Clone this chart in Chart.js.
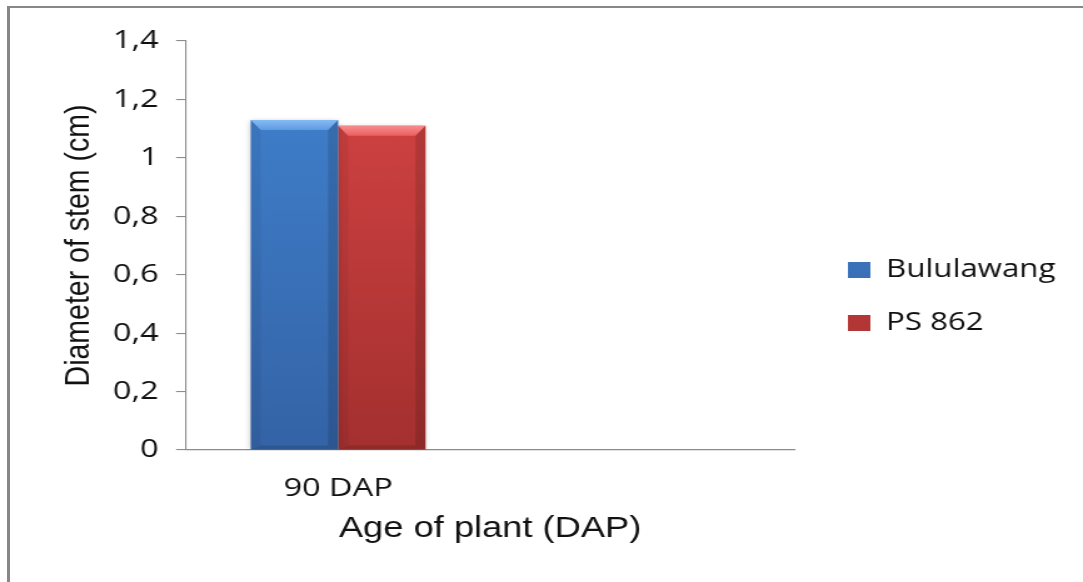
<!DOCTYPE html>
<html>
<head>
<meta charset="utf-8">
<script src="https://cdn.jsdelivr.net/npm/chart.js@4/dist/chart.umd.min.js"></script>
<style>
    html, body { margin: 0; padding: 0; background: #fff; overflow: hidden; }
    #wrap { position: relative; width: 1083px; height: 582px; }
    #frame {
        position: absolute; left: 7px; top: 6px; right: 0; bottom: -10px;
        border-top: 2px solid #878787; border-left: 3px solid #878787;
        pointer-events: none;
    }
    /* the original picture is stretched sideways, so the canvas is too */
    #chart { position: absolute; left: 0; top: 0; width: 1083px; height: 582px; }
</style>
</head>
<body>
<div id="wrap">
    <canvas id="chart" width="866" height="582" style="width:1083px;height:582px"></canvas>
    <div id="frame"></div>
</div>
<script>
const categories = ["90 DAP", ""];
const seriesNames = ["Bululawang", "PS 862"];
const bululawang = [1.13, null];
const ps862 = [1.11, null];
const yMin = 0;
const yMax = 1.4;
const yStep = 0.2;

const axisGrey = "#8c8c8c";
const textColor = "#111111";

// light top / dark bottom, like the Excel bevel fill
const fills = [
    {top: "#4183d0", bottom: "#3463a6", solid: "#3c78c3", bevel: "#5f9be4", edge: "#86bcf4"},
    {top: "#d84545", bottom: "#a3302f", solid: "#cc3d3d", bevel: "#ec5f5f", edge: "#f78e8e"}
];

const barFill = (f) => (context) => {
    const area = context.chart.chartArea;
    if (!area || context.type !== "data") return f.solid;
    const g = context.chart.ctx.createLinearGradient(0, area.top, 0, area.bottom);
    g.addColorStop(0, f.top);
    g.addColorStop(1, f.bottom);
    return g;
};

const formatTick = (v) => String(Number(v.toFixed(1))).replace(".", ",");

const shadowPlugin = {
    id: "barShadow",
    beforeDatasetDraw(chart) {
        const ctx = chart.ctx;
        ctx.save();
        ctx.shadowColor = "rgba(0,0,0,0.28)";
        ctx.shadowBlur = 5;
        ctx.shadowOffsetX = 0;
        ctx.shadowOffsetY = 1;
    },
    afterDatasetDraw(chart) {
        chart.ctx.restore();
    }
};

const bevelPlugin = {
    id: "bevel",
    afterDatasetsDraw(chart) {
        const ctx = chart.ctx;
        chart.data.datasets.forEach((ds, i) => {
            const meta = chart.getDatasetMeta(i);
            meta.data.forEach((bar, j) => {
                if (ds.data[j] == null) return;
                const {x, y, base, width} = bar.getProps(["x", "y", "base", "width"], true);
                const l = x - width / 2;
                const r = x + width / 2;
                const bw = 8, bh = 10;
                ctx.save();
                // top face
                const tg = ctx.createLinearGradient(0, y, 0, y + bh);
                tg.addColorStop(0, fills[i].edge);
                tg.addColorStop(1, fills[i].bevel);
                ctx.fillStyle = tg;
                ctx.beginPath();
                ctx.moveTo(l, y);
                ctx.lineTo(r, y);
                ctx.lineTo(r - bw, y + bh);
                ctx.lineTo(l + bw, y + bh);
                ctx.closePath();
                ctx.fill();
                // left and right faces
                ctx.fillStyle = "rgba(0,0,0,0.05)";
                ctx.beginPath();
                ctx.moveTo(l, y);
                ctx.lineTo(l + bw, y + bh);
                ctx.lineTo(l + bw, base - 4);
                ctx.lineTo(l, base);
                ctx.closePath();
                ctx.fill();
                ctx.fillStyle = "rgba(0,0,0,0.13)";
                ctx.beginPath();
                ctx.moveTo(r, y);
                ctx.lineTo(r - bw, y + bh);
                ctx.lineTo(r - bw, base - 4);
                ctx.lineTo(r, base);
                ctx.closePath();
                ctx.fill();
                // bottom face
                ctx.fillStyle = "rgba(0,0,0,0.12)";
                ctx.beginPath();
                ctx.moveTo(l, base);
                ctx.lineTo(l + bw, base - 4);
                ctx.lineTo(r - bw, base - 4);
                ctx.lineTo(r, base);
                ctx.closePath();
                ctx.fill();
                ctx.restore();
            });
        });
    }
};

// move the legend away from the plot, as in the original
const legendShift = {
    id: "legendShift",
    afterLayout(chart) {
        const lg = chart.legend;
        lg.left += 15;
        lg.right += 15;
        lg.top -= 10;
        lg.bottom -= 10;
    }
};

const ctx = document.getElementById("chart").getContext("2d");

new Chart(ctx, {
    type: "bar",
    data: {
        labels: categories,
        datasets: [
            {
                label: seriesNames[0],
                data: bululawang,
                backgroundColor: barFill(fills[0]),
                borderWidth: 0,
                categoryPercentage: 0.575,
                barPercentage: 1
            },
            {
                label: seriesNames[1],
                data: ps862,
                backgroundColor: barFill(fills[1]),
                borderWidth: 0,
                categoryPercentage: 0.575,
                barPercentage: 1
            }
        ]
    },
    options: {
        responsive: false,
        animation: false,
        events: [],
        layout: {
            padding: {left: 10, top: 41, right: 27, bottom: 10}
        },
        plugins: {
            tooltip: {enabled: false},
            title: {display: false},
            legend: {
                position: "right",
                align: "center",
                labels: {
                    boxWidth: 18,
                    boxHeight: 16,
                    padding: 28,
                    color: textColor,
                    font: {family: "'Open Sans'", size: 25}
                }
            }
        },
        scales: {
            x: {
                offset: true,
                grid: {display: false, drawTicks: false},
                border: {display: true, color: axisGrey, width: 1.3},
                ticks: {
                    color: textColor,
                    padding: 23,
                    maxRotation: 0,
                    font: {family: "'Open Sans'", size: 26}
                },
                title: {
                    display: true,
                    text: "Age of plant (DAP)",
                    color: textColor,
                    padding: {top: 0, bottom: 26},
                    font: {family: "'Liberation Sans'", size: 29}
                },
                afterFit(scale) {
                    scale.height = 122;
                }
            },
            y: {
                min: yMin,
                max: yMax,
                grid: {
                    display: true,
                    drawOnChartArea: false,
                    drawTicks: true,
                    tickLength: 8,
                    color: axisGrey,
                    lineWidth: 1.1
                },
                border: {display: true, color: axisGrey, width: 1.1},
                ticks: {
                    stepSize: yStep,
                    color: textColor,
                    padding: 14,
                    font: {family: "'Open Sans'", size: 26},
                    callback: (value) => formatTick(value)
                },
                title: {
                    display: true,
                    text: "Diameter of stem (cm)",
                    color: textColor,
                    padding: {top: 36, bottom: 0},
                    font: {family: "'Liberation Sans'", size: 28.5}
                },
                afterFit(scale) {
                    scale.width = 138.8;
                }
            }
        }
    },
    plugins: [shadowPlugin, bevelPlugin, legendShift]
});
</script>
</body>
</html>
